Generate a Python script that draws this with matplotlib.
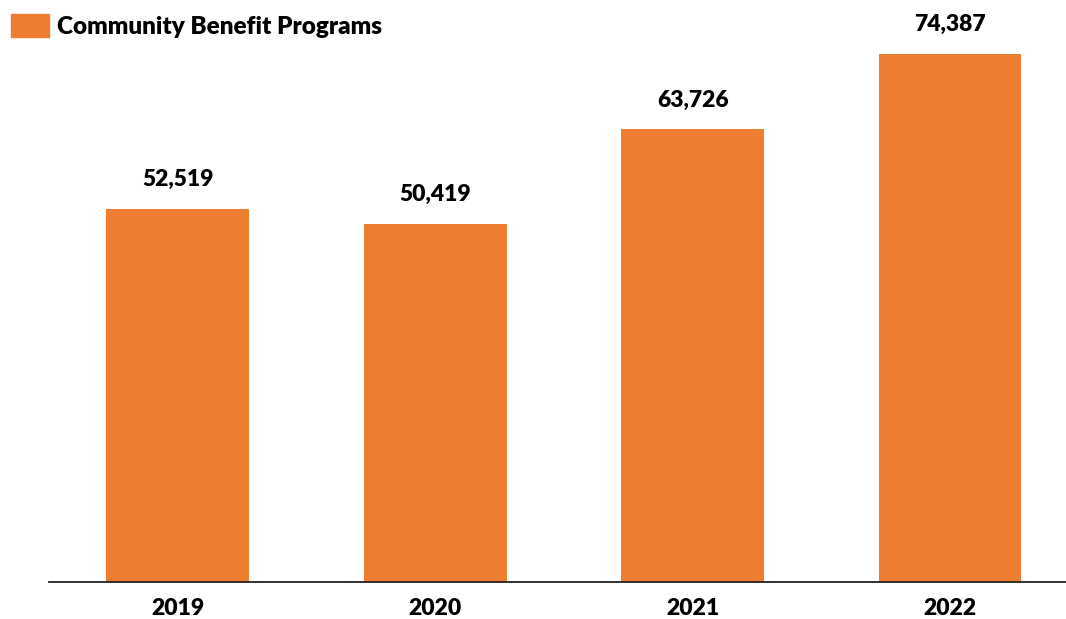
import numpy as np
import matplotlib.pyplot as plt
from matplotlib.patches import Patch

years = ['2019', '2020', '2021', '2022']
values = [52519, 50419, 63726, 74387]
series_name = 'Community Benefit Programs'
bar_color = '#ED7D31'

plt.rcParams['font.family'] = ['Lato', 'DejaVu Sans']
fs = 16.5

fig = plt.figure(figsize=(10.66, 6.19), dpi=100)
ax = fig.add_axes([49 / 1066, (619 - 581.5) / 619, 1 - 49 / 1066, 581.5 / 619])

x = np.arange(len(years))
bars = ax.bar(x, values, width=0.555, color=bar_color)

for xi, v in zip(x, values):
    ax.annotate(f'{v:,}', (xi, v), xytext=(0, 29), textcoords='offset pixels',
                ha='center', va='center', fontsize=fs, fontweight='heavy')

ax.set_xlim(-0.5, 3.5 - 12.75 / 257.5)
ax.set_ylim(0, 81925)
ax.set_xticks(x)
ax.set_xticklabels(years, fontsize=fs, fontweight='heavy')
ax.tick_params(axis='x', length=0, pad=12)
ax.set_yticks([])
for s in ['top', 'right', 'left']:
    ax.spines[s].set_visible(False)
ax.spines['bottom'].set_linewidth(1.3)
ax.spines['bottom'].set_color('#222222')

leg = fig.legend(handles=[Patch(color=bar_color, label=series_name)],
                 loc='upper left', bbox_to_anchor=(11 / 1066, 1 - 14 / 619),
                 frameon=False, borderpad=0, borderaxespad=0,
                 handlelength=1.55, handleheight=1.1, handletextpad=0.33,
                 prop={'size': 17.5, 'weight': 'heavy'})

fig.savefig('out.png', dpi=100)
